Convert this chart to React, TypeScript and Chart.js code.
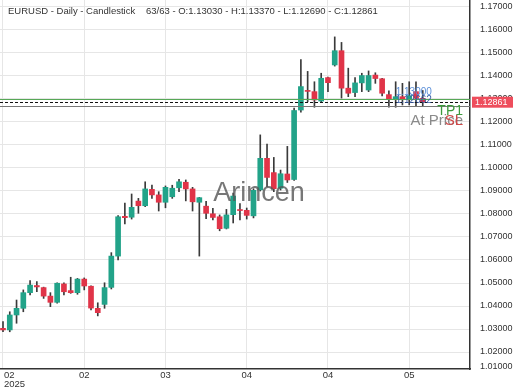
import React, { useEffect, useRef } from "react";
import { Chart, registerables } from "chart.js";

Chart.register(...registerables);

const FONT = "'Liberation Sans', Arial, sans-serif";

const opens = [
  1.0303, 1.0296, 1.0361, 1.039, 1.0458, 1.0489, 1.048, 1.0443, 1.0416, 1.0496,
  1.0467, 1.0458, 1.0517, 1.0486, 1.039, 1.0407, 1.0481, 1.0617, 1.079, 1.0786,
  1.0856, 1.0836, 1.0907, 1.0883, 1.0851, 1.0875, 1.0914, 1.0938, 1.0909, 1.0851,
  1.0834, 1.0801, 1.0788, 1.0738, 1.0797, 1.0819, 1.0816, 1.0792, 1.0905, 1.1042,
  1.098, 1.0912, 1.0974, 1.095, 1.1252, 1.1337, 1.1332, 1.1291, 1.1393, 1.1448,
  1.151, 1.1347, 1.1328, 1.137, 1.1339, 1.1404, 1.1388, 1.1319, 1.1299, 1.131,
  1.13, 1.1332, 1.1303,
];
const highs = [
  1.0332, 1.0375, 1.0426, 1.047, 1.051, 1.0506, 1.0482, 1.0458, 1.0501, 1.0501,
  1.0525, 1.052, 1.0522, 1.0488, 1.0414, 1.0501, 1.0632, 1.0793, 1.0848, 1.0887,
  1.0868, 1.094, 1.0926, 1.0897, 1.0922, 1.0925, 1.0951, 1.0948, 1.0916, 1.0872,
  1.0855, 1.0825, 1.0796, 1.082, 1.0891, 1.0845, 1.0826, 1.091, 1.1144, 1.1104,
  1.1046, 1.0991, 1.1094, 1.126, 1.1471, 1.142, 1.1375, 1.1412, 1.1395, 1.157,
  1.1546, 1.1434, 1.1393, 1.1412, 1.1422, 1.1414, 1.139, 1.1336, 1.1375, 1.1368,
  1.1375, 1.1375, 1.1337,
];
const lows = [
  1.0288, 1.0288, 1.0325, 1.0375, 1.0448, 1.0462, 1.0433, 1.0397, 1.0412, 1.0448,
  1.0455, 1.0451, 1.047, 1.0383, 1.0357, 1.039, 1.0474, 1.06, 1.0757, 1.0778,
  1.0803, 1.0832, 1.0868, 1.0813, 1.0827, 1.0868, 1.0897, 1.0857, 1.0813, 1.0617,
  1.078, 1.0774, 1.0727, 1.0735, 1.0761, 1.0774, 1.0778, 1.0783, 1.09, 1.0919,
  1.0897, 1.0904, 1.0937, 1.0946, 1.1243, 1.1288, 1.1264, 1.1288, 1.1332, 1.1443,
  1.1304, 1.131, 1.131, 1.1332, 1.1332, 1.1368, 1.1313, 1.1265, 1.1264, 1.1274,
  1.1274, 1.127, 1.1269,
];
const closes = [
  1.0296, 1.0361, 1.039, 1.0458, 1.0491, 1.0483, 1.0443, 1.0416, 1.0499, 1.0462,
  1.0458, 1.0517, 1.0487, 1.0391, 1.0371, 1.048, 1.0617, 1.0788, 1.0784, 1.0829,
  1.0836, 1.0909, 1.0883, 1.0851, 1.0916, 1.0912, 1.094, 1.0909, 1.0853, 1.0871,
  1.0803, 1.0785, 1.0736, 1.0796, 1.0878, 1.0815, 1.0794, 1.0903, 1.1042, 1.0959,
  1.091, 1.0975, 1.0948, 1.125, 1.1354, 1.1333, 1.1296, 1.139, 1.1371, 1.151,
  1.1347, 1.1325, 1.137, 1.1402, 1.1402, 1.1389, 1.1325, 1.1299, 1.131, 1.13,
  1.1314, 1.1303, 1.12861,
];

const xTickIndices = [0, 12, 24, 36, 48, 60];
const xTickLabels = [["02", "2025"], ["02"], ["03"], ["04"], ["04"], ["05"]];

const headerLeft = "EURUSD - Daily - Candlestick";
const headerRight = "63/63 - O:1.13030 - H:1.13370 - L:1.12690 - C:1.12861";

const tpLevel = 1.1299;
const closeLevel = 1.12861;
const entryLevel = 1.1268;
const extraYLabel = 1.01;
const markerTexts = ["1.13000", "1.12662"];
const markerIndex = 58;

const X_MIN = -0.443;
const X_MAX = 68.98;
const Y_MIN = 1.01261;
const Y_MAX = 1.17304;

const GREEN = "#22a389";
const RED = "#e03448";
const WICK = "#3a3a3a";
const GRID = "#e6e6e6";

const overlayPlugin = {
  id: "overlay",
  afterDatasetsDraw(chart: any) {
    const { ctx, chartArea, scales } = chart;
    const xs = scales.x;
    const ys = scales.y;
    const L = chartArea.left;
    const R = chartArea.right;
    ctx.save();

    // watermark
    ctx.font = `27px ${FONT}`;
    ctx.fillStyle = "rgba(85,85,85,0.8)";
    ctx.textAlign = "center";
    ctx.textBaseline = "middle";
    ctx.fillText("Arincen", 259, 194);

    // level lines
    const tpY = Math.round(ys.getPixelForValue(tpLevel)) + 0.5;
    const cY = Math.round(ys.getPixelForValue(closeLevel)) + 0.5;
    const eY = Math.round(ys.getPixelForValue(entryLevel)) + 0.5;
    ctx.lineWidth = 1;
    ctx.strokeStyle = "#57a857";
    ctx.beginPath();
    ctx.moveTo(L, tpY);
    ctx.lineTo(R, tpY);
    ctx.stroke();
    ctx.strokeStyle = "#111";
    ctx.setLineDash([3, 2]);
    ctx.beginPath();
    ctx.moveTo(L, cY);
    ctx.lineTo(R, cY);
    ctx.stroke();
    ctx.setLineDash([]);
    ctx.strokeStyle = "#777";
    ctx.beginPath();
    ctx.moveTo(L, eY);
    ctx.lineTo(R, eY);
    ctx.stroke();

    // marker texts
    const mx = xs.getPixelForValue(markerIndex);
    ctx.font = `10px ${FONT}`;
    ctx.textAlign = "left";
    ctx.fillStyle = "#5b8fd8";
    ctx.fillText(markerTexts[0], mx, tpY - 7);
    ctx.fillStyle = "#3a5ea8";
    ctx.fillText(markerTexts[1], mx, cY - 2);

    // trade labels
    ctx.textAlign = "right";
    ctx.font = `14px ${FONT}`;
    ctx.fillStyle = "#3d9a3d";
    ctx.fillText("TP1", 463, tpY + 12);
    ctx.font = `15px ${FONT}`;
    ctx.fillStyle = "#8a8a8a";
    ctx.fillText("At Price", 463, eY + 14);
    ctx.fillStyle = "#d04848";
    ctx.fillText("SL", 463, eY + 14.5);
    ctx.restore();
  },
  afterDraw(chart: any) {
    const { ctx, chartArea, scales } = chart;
    const xs = scales.x;
    const ys = scales.y;
    ctx.save();
    // header
    ctx.font = `9.5px ${FONT}`;
    ctx.fillStyle = "#333";
    ctx.textAlign = "left";
    ctx.textBaseline = "middle";
    ctx.fillText(headerLeft, 8, 11.5);
    ctx.fillText(headerRight, 146, 11.5);

    // x labels
    ctx.font = `9.5px ${FONT}`;
    xTickIndices.forEach((v, i) => {
      const px = xs.getPixelForValue(v);
      xTickLabels[i].forEach((line, j) => {
        const w = ctx.measureText(line).width;
        let lx = px - w / 2;
        if (lx < 4) lx = 4;
        ctx.fillText(line, lx, 375 + j * 9);
      });
    });

    // clipped bottom y label
    ctx.save();
    ctx.beginPath();
    ctx.rect(chartArea.right + 1, 0, 60, chartArea.bottom);
    ctx.clip();
    ctx.font = `9px ${FONT}`;
    ctx.fillStyle = "#333";
    ctx.fillText(extraYLabel.toFixed(5), chartArea.right + 10, chartArea.bottom - 2);
    ctx.restore();

    // price box
    const cY = ys.getPixelForValue(closeLevel);
    ctx.fillStyle = "#ee4d5c";
    ctx.fillRect(chartArea.right + 2, cY - 5.5, 41, 11);
    ctx.fillStyle = "#fff";
    ctx.font = `9px ${FONT}`;
    ctx.fillText(closeLevel.toFixed(5), chartArea.right + 5, cY + 0.5);
    ctx.restore();
  },
};

export default function App() {
  const ref = useRef<HTMLCanvasElement>(null);
  useEffect(() => {
    const canvas = ref.current!;
    Chart.defaults.font.family = FONT;
    const idx = opens.map((_, i) => i);
    const colors = idx.map((i) => (closes[i] >= opens[i] ? GREEN : RED));
    const chart = new Chart(canvas, {
      type: "bar",
      data: {
        datasets: [
          {
            label: "body",
            data: idx.map((i) => ({ x: i, y: [opens[i], closes[i]] })) as any,
            backgroundColor: colors,
            barThickness: 5,
            minBarLength: 1,
            borderWidth: 0,
            grouped: false,
            order: 0,
          } as any,
          {
            label: "wick",
            data: idx.map((i) => ({ x: i, y: [lows[i], highs[i]] })) as any,
            backgroundColor: WICK,
            barThickness: 1,
            borderWidth: 0,
            grouped: false,
            order: 1,
          } as any,
        ],
      },
      options: {
        responsive: false,
        animation: false,
        layout: { padding: 0 },
        plugins: { legend: { display: false }, tooltip: { enabled: false } },
        scales: {
          x: {
            type: "linear",
            min: X_MIN,
            max: X_MAX,
            offset: false,
            ticks: { display: false, stepSize: 12, includeBounds: false },
            grid: { color: GRID, drawTicks: false, offset: false },
            border: { color: "#333", width: 1.5 },
            afterFit(s: any) {
              s.height = 21;
              s.paddingLeft = 0;
              s.paddingRight = 0;
            },
          },
          y: {
            type: "linear",
            position: "right",
            min: Y_MIN,
            max: Y_MAX,
            ticks: {
              stepSize: 0.01,
              includeBounds: false,
              autoSkip: false,
              padding: 10,
              color: "#333",
              font: { size: 9 },
              callback: (v: any) => Number(v).toFixed(5),
            },
            grid: { color: GRID, drawTicks: false },
            border: { color: "#333", width: 1.5 },
            afterFit(s: any) {
              s.width = 50;
              s.paddingTop = 0;
              s.paddingBottom = 0;
            },
          },
        } as any,
      },
      plugins: [overlayPlugin],
    });
    return () => chart.destroy();
  }, []);
  return (
    <div style={{ position: "fixed", left: 0, top: 0, width: 520, height: 390, background: "#fff" }}>
      <canvas ref={ref} width={520} height={390} />
    </div>
  );
}
